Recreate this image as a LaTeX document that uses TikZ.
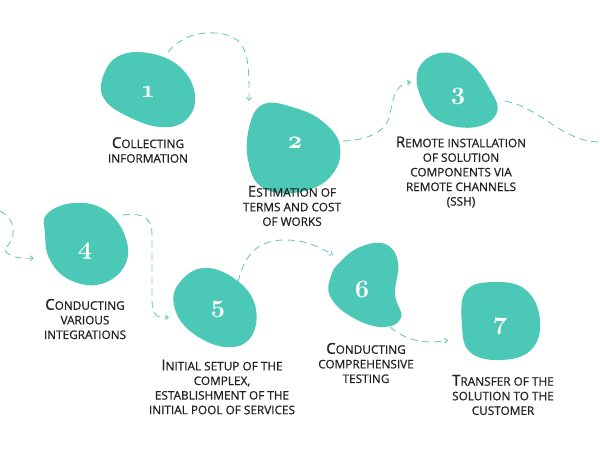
\documentclass[tikz,border=0pt]{standalone}
\usepackage{fontspec}
\setmainfont{Open Sans}
\newfontfamily\labelfont{Open Sans}[FakeBold=0.8]
\usepackage{tikz}
\usetikzlibrary{arrows.meta}
\usepackage{xcolor}

\definecolor{tealblob}{HTML}{4BC8B6}
\definecolor{tealdash}{HTML}{6CCABC}
\definecolor{labelgray}{HTML}{222222}

\newcommand{\initcap}[1]{{\fontsize{15}{14.5}\selectfont #1}}
\newcommand{\stepnum}[1]{{\fontsize{34}{34}\usefont{OML}{cmm}{b}{it}#1}}

\begin{document}
\begin{tikzpicture}[
      x=1pt, y=-1pt,
      blob/.style = {fill=tealblob, draw=none},
      number/.style = {text=white, anchor=base, inner sep=0pt},
      steplabel/.style = {
        align=center, text=labelgray, inner sep=0pt,
        font=\labelfont\fontsize{11.8}{14.6}\selectfont
      },
      flow/.style = {
        draw=tealdash, dashed, dash pattern=on 7pt off 5pt, line width=0.9pt,
        -{Straight Barb[length=3pt, width=5pt]}
      },
      flowend/.style = {
        draw=tealdash, dashed, dash pattern=on 7pt off 5pt, line width=0.9pt
      }
    ]

    \useasboundingbox (0,0) rectangle (600,461);

    \fill[blob] plot[smooth cycle, tension=0.7] coordinates
      {(102,80) (117,57) (148,53) (180,67) (195,95) (186,120) (160,127) (127,116) (105,100)};
    \fill[blob] plot[smooth cycle, tension=0.7] coordinates
      {(250,124) (264,104) (292,107) (322,121) (340,146) (331,176) (300,192) (263,188) (248,160)};
    \fill[blob] plot[smooth cycle, tension=0.7] coordinates
      {(418,70) (440,53) (468,61) (489,88) (497,112) (476,127) (441,122) (422,100)};
    \fill[blob] plot[smooth cycle, tension=0.7] coordinates
      {(47,214) (74,203) (105,210) (125,236) (125,265) (101,284) (70,280) (50,260) (45,234)};
    \fill[blob] plot[smooth cycle, tension=0.7] coordinates
      {(180,282) (204,268) (235,279) (255,305) (251,337) (225,347) (190,331) (174,305)};
    \fill[blob] plot[smooth cycle, tension=0.7] coordinates
      {(340,262) (360,247) (385,244) (398,262) (395,294) (401,318) (381,327) (350,316) (330,296) (331,276)};
    \fill[blob] plot[smooth cycle, tension=0.7] coordinates
      {(466,291) (495,282) (526,290) (540,320) (531,350) (500,360) (470,352) (462,325)};

    \node[number] (num1) at (148, 97) {\stepnum{1}};
    \node[number] (num2) at (295,148) {\stepnum{2}};
    \node[number] (num3) at (458, 99) {\stepnum{3}};
    \node[number] (num4) at ( 85,254) {\stepnum{4}};
    \node[number] (num5) at (218,312) {\stepnum{5}};
    \node[number] (num6) at (362,297) {\stepnum{6}};
    \node[number] (num7) at (500,329) {\stepnum{7}};

    \node[steplabel] (lab1) at (148,150) {\initcap{C}OLLECTING\\INFORMATION};
    \node[steplabel] (lab2) at (292,206) {\initcap{E}STIMATION OF\\TERMS AND COST\\OF WORKS};
    \node[steplabel] (lab3) at (461,172) {\initcap{R}EMOTE INSTALLATION\\OF SOLUTION\\COMPONENTS VIA\\REMOTE CHANNELS\\(SSH)};
    \node[steplabel] (lab4) at ( 85,319) {\initcap{C}ONDUCTING\\VARIOUS\\INTEGRATIONS};
    \node[steplabel] (lab5) at (222,387) {\initcap{I}NITIAL SETUP OF THE\\COMPLEX,\\ESTABLISHMENT OF THE\\INITIAL POOL OF SERVICES};
    \node[steplabel] (lab6) at (366,363) {\initcap{C}ONDUCTING\\COMPREHENSIVE\\TESTING};
    \node[steplabel] (lab7) at (503,395) {\initcap{T}RANSFER OF THE\\SOLUTION TO THE\\CUSTOMER};

    \coordinate (out1) at (168, 52);
    \coordinate (in2)  at (249,101);
    \coordinate (out2) at (343,141);
    \coordinate (in3)  at (411, 82);
    \coordinate (out3) at (505,101);
    \coordinate (edgeR) at (600,142);
    \coordinate (edgeL) at (0,211);
    \coordinate (in4)  at ( 34,258);
    \coordinate (out4) at (123,215);
    \coordinate (in5)  at (169,317);
    \coordinate (out5) at (238,282);
    \coordinate (in6)  at (333,255);
    \coordinate (out6) at (390,327);
    \coordinate (in7)  at (448,340);

    \draw[flow] (out1) .. controls (182,36) and (198,32) .. (215,33)
      .. controls (250,35) and (249,60) .. (in2);
    \draw[flow] (out2) .. controls (365,140) and (386,134) .. (390,114)
      .. controls (394,92) and (398,84) .. (in3);
    \draw[flowend] (out3) .. controls (540,107) and (562,142) .. (edgeR);
    \draw[flow] (edgeL) .. controls (18,220) and (16,241) .. (4,249)
      .. controls (8,257) and (20,259) .. (in4);
    \draw[flow] (out4) .. controls (140,213) and (152,215) .. (152,235)
      -- (152,300) .. controls (152,318) and (160,318) .. (in5);
    \draw[flow] (out5) .. controls (245,252) and (260,240) .. (285,240)
      .. controls (305,240) and (320,247) .. (in6);
    \draw[flow] (out6) .. controls (405,340) and (425,345) .. (in7);

  \end{tikzpicture}
\end{document}
